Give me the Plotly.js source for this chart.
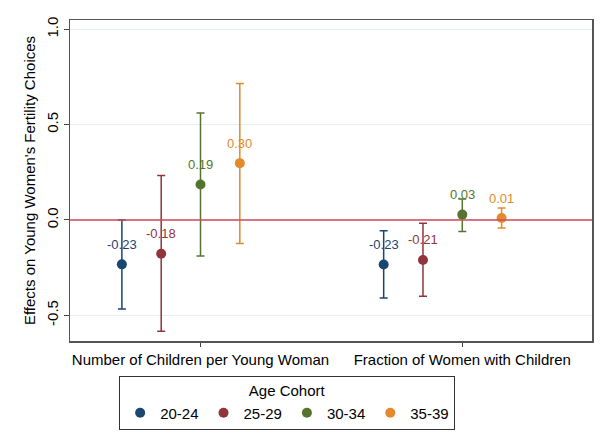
<!DOCTYPE html>
<html>
<head>
<meta charset="utf-8">
<script src="https://cdn.plot.ly/plotly-3.0.1.min.js"></script>
<style>html,body{margin:0;padding:0;background:#fff;}#chart{width:603px;height:444px;}</style>
</head>
<body>
<div id="chart"></div>
<script>
// Outcome categories and tick labels
var categories = ["Number of Children per Young Woman", "Fraction of Women with Children"];
var tickPositions = [3, 9.66];
var cohorts = ["20-24", "25-29", "30-34", "35-39"];
// x positions of each cohort within the two outcome groups
var xPos2024 = [1, 7.66];
var xPos2529 = [2, 8.66];
var xPos3034 = [3, 9.66];
var xPos3539 = [4, 10.66];
// point estimates
var est2024 = [-0.233, -0.234];
var est2529 = [-0.177, -0.210];
var est3034 = [0.186, 0.028];
var est3539 = [0.298, 0.010];
// upper CI bounds
var hi2024 = [0.000, -0.056];
var hi2529 = [0.233, -0.017];
var hi3034 = [0.561, 0.110];
var hi3539 = [0.716, 0.063];
// lower CI bounds
var lo2024 = [-0.467, -0.410];
var lo2529 = [-0.584, -0.400];
var lo3034 = [-0.189, -0.061];
var lo3539 = [-0.123, -0.042];
// value labels
var lab2024 = ["-0.23", "-0.23"];
var lab2529 = ["-0.18", "-0.21"];
var lab3034 = ["0.19", "0.03"];
var lab3539 = ["0.30", "0.01"];
var yTicks = [-0.5, 0, 0.5, 1];
var yTickText = ["-0.5", "0.0", "0.5", "1.0"];

var colors = ["#1a476f", "#90353b", "#55752f", "#e38a2c"];
var series = [
  {x: xPos2024, y: est2024, hi: hi2024, lo: lo2024, lab: lab2024},
  {x: xPos2529, y: est2529, hi: hi2529, lo: lo2529, lab: lab2529},
  {x: xPos3034, y: est3034, hi: hi3034, lo: lo3034, lab: lab3034},
  {x: xPos3539, y: est3539, hi: hi3539, lo: lo3539, lab: lab3539}
];

var traces = [];
var annotations = [];
series.forEach(function (s, i) {
  traces.push({
    type: "scatter",
    mode: "markers",
    name: cohorts[i],
    x: s.x,
    y: s.y,
    marker: {color: colors[i], size: 10},
    error_y: {
      type: "data", symmetric: false,
      array: s.hi.map(function (h, k) { return h - s.y[k]; }),
      arrayminus: s.lo.map(function (l, k) { return s.y[k] - l; }),
      color: colors[i], thickness: 1.5, width: 4
    },
    hoverinfo: "skip"
  });
  s.x.forEach(function (xv, k) {
    annotations.push({
      x: xv, y: s.y[k], xref: "x", yref: "y",
      text: s.lab[k], showarrow: false, yshift: 20,
      font: {family: "Liberation Sans, Arial, sans-serif", size: 13, color: colors[i]}
    });
  });
});

var layout = {
  width: 603, height: 444,
  margin: {l: 70, r: 11, t: 20, b: 103},
  paper_bgcolor: "#ffffff",
  plot_bgcolor: "#ffffff",
  font: {family: "Liberation Sans, Arial, sans-serif", size: 15, color: "#000"},
  showlegend: true,
  xaxis: {
    range: [-0.32, 12.96],
    tickmode: "array", tickvals: tickPositions, ticktext: categories,
    ticks: "outside", ticklen: 4, tickcolor: "#444",
    showgrid: false, zeroline: false,
    showline: true, mirror: true, linecolor: "#555", linewidth: 1.5,
    tickfont: {size: 15}
  },
  yaxis: {
    range: [-0.635, 1.049],
    tickmode: "array", tickvals: yTicks, ticktext: yTickText,
    tickangle: -90,
    ticks: "outside", ticklen: 5, tickcolor: "#444",
    showgrid: true, gridcolor: "#e6eff0", gridwidth: 1,
    zeroline: false,
    showline: true, mirror: true, linecolor: "#555", linewidth: 1.5,
    tickfont: {size: 15},
    title: {text: "Effects on Young Women's Fertility Choices", font: {size: 15}, standoff: 4}
  },
  shapes: [
    {type: "line", xref: "paper", x0: 0, x1: 1, yref: "y", y0: 0, y1: 0,
     line: {color: "#cf4a5c", width: 1.5}, layer: "above"}
  ],
  annotations: annotations,
  legend: {
    orientation: "h",
    x: 0.416, xanchor: "center",
    y: -0.109, yanchor: "top",
    bordercolor: "#333", borderwidth: 1,
    font: {size: 15},
    itemwidth: 30,
    title: {text: "Age Cohort", side: "top center", font: {size: 15}},
    itemclick: false
  }
};

Plotly.newPlot("chart", traces, layout, {displayModeBar: false, staticPlot: true});
</script>
</body>
</html>
